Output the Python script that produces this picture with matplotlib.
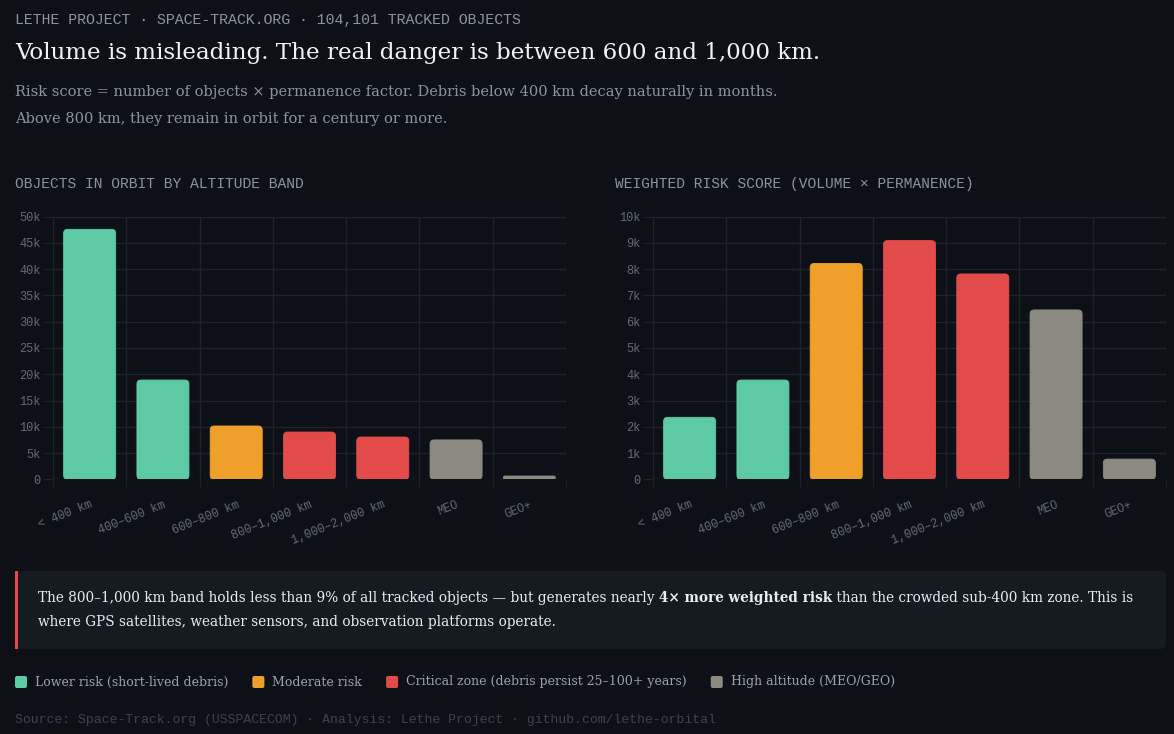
import matplotlib.pyplot as plt
from matplotlib.patches import FancyBboxPatch, Rectangle
from matplotlib.ticker import FuncFormatter, MultipleLocator
import numpy as np

# --- data ---
bands = ['< 400 km', '400–600 km', '600–800 km', '800–1,000 km',
         '1,000–2,000 km', 'MEO', 'GEO+']
objects = [47600, 18900, 10150, 9000, 8050, 7500, 630]
risk_score = [2360, 3780, 8220, 9090, 7820, 6450, 770]
risk_level = ['low', 'low', 'moderate', 'critical', 'critical', 'high', 'high']

level_colors = {'low': '#5dcaa5', 'moderate': '#efa02a',
                'critical': '#e34b4b', 'high': '#8a8a80'}
legend_labels = ['Lower risk (short-lived debris)', 'Moderate risk',
                 'Critical zone (debris persist 25–100+ years)',
                 'High altitude (MEO/GEO)']
legend_keys = ['low', 'moderate', 'critical', 'high']

W, H = 1174, 734
BG = '#0d1117'
GRID = '#1e232b'
SERIF = 'DejaVu Serif'
MONO = 'Liberation Mono'

fig = plt.figure(figsize=(W / 100, H / 100), dpi=100, facecolor=BG)

# overlay axes in pixel coordinates for the text blocks
ov = fig.add_axes([0, 0, 1, 1], zorder=-1)
ov.set_xlim(0, W)
ov.set_ylim(H, 0)
ov.axis('off')


def k_fmt(v, pos):
    return '0' if v == 0 else f'{int(v / 1000)}k'


def round_bars(ax, bars, r_px=4):
    x0p, y0p = ax.transData.transform((0, 0))
    x1p, y1p = ax.transData.transform((1, 1))
    sx, sy = x1p - x0p, y1p - y0p
    aspect = sx / sy
    for b in bars:
        x, y, w, h = b.get_x(), b.get_y(), b.get_width(), b.get_height()
        r = min(r_px / sx, w / 2, h / aspect / 2)
        p = FancyBboxPatch((x, y), w, h,
                           boxstyle=f'round,pad=0,rounding_size={r}',
                           mutation_aspect=aspect, fc=b.get_facecolor(),
                           ec=b.get_facecolor(), lw=0.6, zorder=3)
        b.remove()
        ax.add_patch(p)


def bar_panel(left_px, values, ymax, step):
    ax = fig.add_axes([left_px / W, 1 - 479.3 / H, 513 / W, 262.6 / H])
    ax.set_facecolor(BG)
    colors = [level_colors[l] for l in risk_level]
    x = np.arange(len(bands))
    bars = ax.bar(x, values, width=0.71, color=colors, zorder=3)
    ax.set_xlim(-0.5, len(bands) - 0.5)
    ax.set_ylim(0, ymax)
    ax.yaxis.set_major_locator(MultipleLocator(step))
    ax.yaxis.set_major_formatter(FuncFormatter(k_fmt))
    ax.set_xticks(x)
    ax.set_xticklabels(bands, rotation=22, ha='right', va='top',
                       rotation_mode='anchor', family=MONO, fontsize=8.6,
                       color='#636a74')
    ax.set_xticks(np.arange(-0.5, len(bands)), minor=True)
    for lab in ax.get_yticklabels():
        lab.set_family(MONO)
    ax.tick_params(axis='y', length=7, color=GRID, labelsize=8.6,
                   labelcolor='#636a74', pad=2)
    ax.tick_params(axis='x', which='major', length=0, pad=14)
    ax.tick_params(axis='x', which='minor', length=6, color=GRID)
    ax.grid(axis='y', color=GRID, lw=1, zorder=0)
    ax.grid(axis='x', which='minor', color=GRID, lw=1, zorder=0)
    for s in ax.spines.values():
        s.set_visible(False)
    round_bars(ax, bars)
    return ax


bar_panel(53, objects, 50000, 5000)
bar_panel(653, risk_score, 10000, 1000)

# --- header text ---
ov.text(15, 20, 'LETHE PROJECT · SPACE-TRACK.ORG · 104,101 TRACKED OBJECTS',
        family=MONO, fontsize=10.7, color='#8b949e', va='center')
ov.text(15, 53, 'Volume is misleading. The real danger is between 600 and 1,000 km.',
        family=SERIF, fontsize=16.55, color='#f0f3f6', va='center')
ov.text(15, 92, 'Risk score = number of objects × permanence factor. '
        'Debris below 400 km decay naturally in months.',
        family=SERIF, fontsize=10.5, color='#8b949e', va='center')
ov.text(15, 119, 'Above 800 km, they remain in orbit for a century or more.',
        family=SERIF, fontsize=10.5, color='#8b949e', va='center')
ov.text(15, 184, 'OBJECTS IN ORBIT BY ALTITUDE BAND', family=MONO,
        fontsize=10.5, color='#8b949e', va='center')
ov.text(615, 184, 'WEIGHTED RISK SCORE (VOLUME × PERMANENCE)', family=MONO,
        fontsize=10.45, color='#8b949e', va='center')

# --- callout box ---
ov.add_patch(FancyBboxPatch((15, 571), 1151, 78,
                            boxstyle='round,pad=0,rounding_size=6',
                            fc='#161b22', ec='none'))
ov.add_patch(Rectangle((15, 571), 3, 78, fc='#e5484d', ec='none'))

renderer = fig.canvas.get_renderer()
pieces = [("The 800–1,000 km band holds less than 9% of all tracked objects — "
           "but generates nearly ", 'normal'),
          ('4× more weighted risk', 'bold'),
          (' than the crowded sub-400 km zone. This is', 'normal')]
cx = 38
for txt, wt in pieces:
    t = ov.text(cx, 598, txt, family=SERIF, fontsize=9.8, weight=wt,
                color='#e6edf3', va='center')
    cx += t.get_window_extent(renderer).width
ov.text(38, 622, 'where GPS satellites, weather sensors, and observation platforms operate.',
        family=SERIF, fontsize=9.8, color='#e6edf3', va='center')

# --- legend ---
lx = 15
for key, lab in zip(legend_keys, legend_labels):
    ov.add_patch(FancyBboxPatch((lx, 676), 12, 12,
                                boxstyle='round,pad=0,rounding_size=2',
                                fc=level_colors[key], ec='none'))
    t = ov.text(lx + 20, 682, lab, family=SERIF, fontsize=9.0,
                color='#9aa2ab', va='center')
    lx += 20 + t.get_window_extent(renderer).width + 24

ov.text(15, 720, 'Source: Space-Track.org (USSPACECOM) · Analysis: Lethe Project · '
        'github.com/lethe-orbital', family=MONO, fontsize=9.45,
        color='#3b434c', va='center')

fig.savefig('out.png', dpi=100, facecolor=BG)
